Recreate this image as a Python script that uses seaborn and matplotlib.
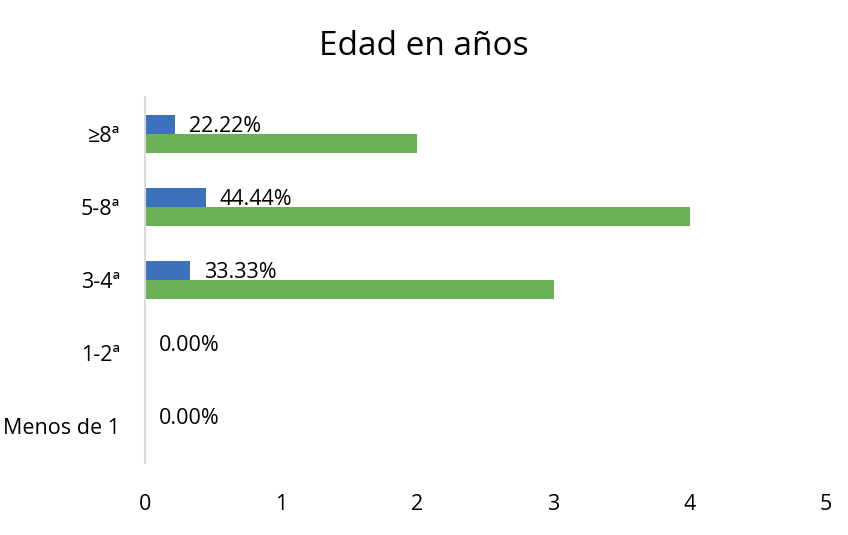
import matplotlib
matplotlib.use("Agg")
import matplotlib.pyplot as plt
import seaborn as sns
import pandas as pd

categories = ["≥8ª", "5-8ª", "3-4ª", "1-2ª", "Menos de 1"]
percent_values = [0.2222, 0.4444, 0.3333, 0.0, 0.0]
count_values = [2, 4, 3, 0, 0]
percent_labels = ["22.22%", "44.44%", "33.33%", "0.00%", "0.00%"]
series_names = ["Porcentaje", "Frecuencia"]
x_ticks = [0, 1, 2, 3, 4, 5]

sns.set_theme(style="white")
plt.rcParams["font.family"] = ["Open Sans", "DejaVu Sans"]
plt.rcParams["text.color"] = "black"
plt.rcParams["xtick.color"] = "black"
plt.rcParams["ytick.color"] = "black"

df = pd.DataFrame({
    "cat": categories * 2,
    "val": percent_values + count_values,
    "serie": [series_names[0]] * len(categories) + [series_names[1]] * len(categories),
})

fig = plt.figure(figsize=(8.48, 5.35), dpi=100)
ax = fig.add_axes([145 / 848, 1 - 463 / 535, (826 - 145) / 848, (463 - 97) / 535])

sns.barplot(data=df, y="cat", x="val", hue="serie", order=categories,
            hue_order=series_names, palette=["#3E71BC", "#6AB155"],
            width=0.52, gap=0, orient="h", ax=ax, legend=False, saturation=1,
            linewidth=0, edgecolor="none")

# data labels on the percentage bars
pct_container = ax.containers[0]
for bar, lab in zip(pct_container, percent_labels):
    xend = bar.get_x() + bar.get_width()
    yc = bar.get_y() + bar.get_height() / 2
    ax.annotate(lab, (xend, yc), xytext=(10, -1.5), textcoords="offset points",
                ha="left", va="center", fontsize=15.5, color="black")

ax.set_xlim(0, 5)
ax.set_xticks(x_ticks)
ax.set_xticklabels([str(t) for t in x_ticks], fontsize=15.5)
ax.tick_params(axis="x", length=0, pad=22)
ax.tick_params(axis="y", length=0, pad=18, labelsize=15.5)
ax.set_xlabel("")
ax.set_ylabel("")
for s in ["top", "right", "bottom"]:
    ax.spines[s].set_visible(False)
ax.spines["left"].set_color("#D9D9D9")
ax.spines["left"].set_linewidth(1.5)
ax.grid(False)

fig.suptitle("Edad en años", fontsize=24, y=1 - 47 / 535, va="center", color="black")

fig.savefig("out.png", dpi=100)
